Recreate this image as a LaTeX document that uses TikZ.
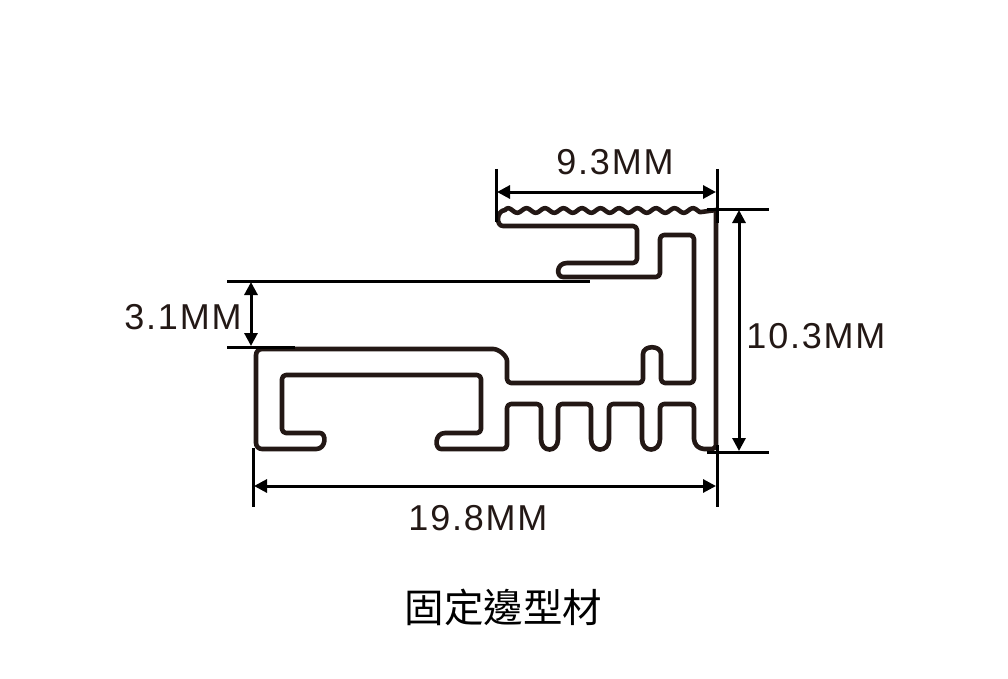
\documentclass[tikz,border=0pt]{standalone}
\usepackage{fontspec}
\setmainfont{Liberation Sans}
\newfontfamily\dimfont[LetterSpace=5]{Liberation Sans}
\newfontfamily\cjkfont{Noto Sans CJK TC}
\usetikzlibrary{arrows.meta}
\definecolor{ink}{HTML}{231815}
\tikzset{
  profile/.style={draw=ink,line width=4.6pt,line join=round,line cap=round,rounded corners=4pt},
  extline/.style={draw=black,line width=3pt},
  dimline/.style={draw=black,line width=3pt,{Triangle[length=13pt,width=13pt]}-{Triangle[length=13pt,width=13pt]}},
  dimlabel/.style={text=ink,inner sep=0pt,font=\dimfont\fontsize{36}{36}\selectfont},
  caption/.style={text=black,inner sep=0pt,font=\cjkfont\fontsize{39.5}{40}\selectfont}
}
\begin{document}
\begin{tikzpicture}[x=1pt,y=-1pt]
\useasboundingbox (0,0) rectangle (1008,679);
% profile outline
\draw[profile]
  (716,216) -- (716,449) -- (700,449) -- (694,443) -- (694,404) -- (660,404) -- (660,435)
  .. controls (660,453) and (642,453) .. (642,435) -- (642,404) -- (609,404) -- (609,435)
  .. controls (609,453) and (591,453) .. (591,435) -- (591,404) -- (558,404) -- (558,435)
  .. controls (558,453) and (541,453) .. (541,435) -- (541,404) -- (507,404) -- (507,449)
  -- (445,449) [sharp corners] .. controls (434.5,449) and (434.5,433) .. (445,433) [rounded corners=4pt] -- (481,433) -- (481,375)
  -- (282,375) -- (282,433) -- (316,433) [sharp corners] .. controls (326.5,433) and (326.5,449) .. (316,449) [rounded corners=6pt]
  -- (256,449) -- (256,349) -- (487,349) .. controls (499,349) and (507,356) .. (507,367) [rounded corners=4pt]
  -- (507,383) -- (643,383) -- (643,358) .. controls (643,345) and (661,345) .. (661,358)
  -- (661,383) -- (694,383) -- (694,235) -- (660,235) -- (660,277) -- (567,277)
  [sharp corners] .. controls (556,277) and (556,263) .. (567,263) [rounded corners=4pt] -- (637,263) -- (637,226) -- (507,226)
  [sharp corners] .. controls (496,226) and (496,211) .. (505,210)
  .. controls (506,209) and (507,208.2) .. (508,208.2)
  -- plot[domain=508:700,samples=120] (\x,{210.5-2.3*cos((\x-508)/18.5*360)})
  -- (716,210) -- cycle;
% extension lines
\coordinate (a1) at (496.5,169); \coordinate (a2) at (496.5,222);
\coordinate (b1) at (717,169);   \coordinate (b2) at (717,223);
\coordinate (c1) at (707,209);   \coordinate (c2) at (769,209);
\coordinate (d1) at (707,452);   \coordinate (d2) at (769,452);
\coordinate (e1) at (227,281);   \coordinate (e2) at (590,281);
\coordinate (f1) at (227,347);   \coordinate (f2) at (295,347);
\coordinate (g1) at (253,448);   \coordinate (g2) at (253,507);
\coordinate (h1) at (717,445);   \coordinate (h2) at (717,507);
\foreach \p/\q in {a1/a2,b1/b2,c1/c2,d1/d2,e1/e2,f1/f2,g1/g2,h1/h2}
  \draw[extline] (\p) -- (\q);
% dimension arrows
\coordinate (t1) at (497,192);  \coordinate (t2) at (716,192);
\coordinate (r1) at (739,210);  \coordinate (r2) at (739,451);
\coordinate (l1) at (251,282);  \coordinate (l2) at (251,346);
\coordinate (u1) at (254,486);  \coordinate (u2) at (716,486);
\foreach \p/\q in {t1/t2,r1/r2,l1/l2,u1/u2}
  \draw[dimline] (\p) -- (\q);
% labels
\node[dimlabel] (w93) at (615,162) {9.3MM};
\node[dimlabel] (h103) at (816,336) {10.3MM};
\node[dimlabel] (h31) at (183,317) {3.1MM};
\node[dimlabel] (w198) at (478,518) {19.8MM};
\node[caption] (cap) at (503.5,607) {固定邊型材};
\end{tikzpicture}
\end{document}
